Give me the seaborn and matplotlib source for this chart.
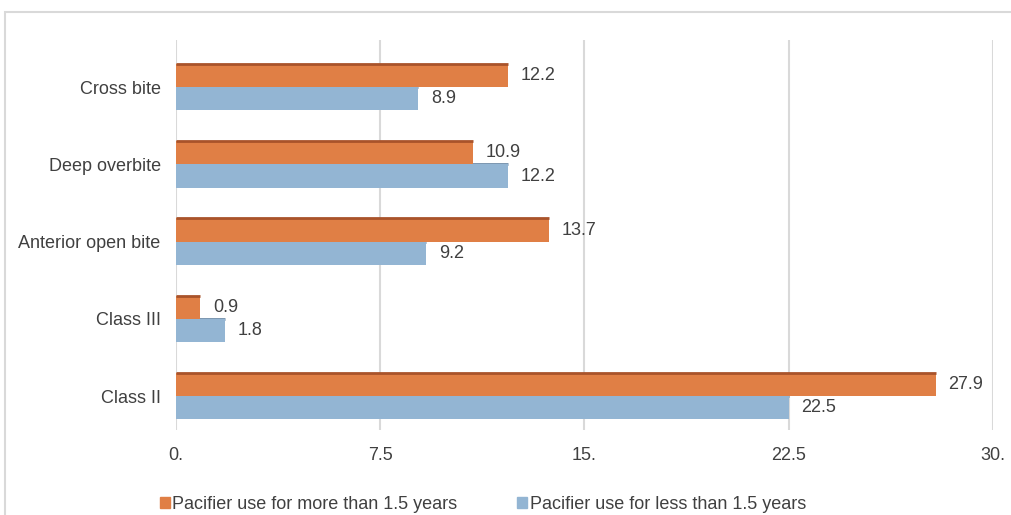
import pandas as pd
import matplotlib
matplotlib.use("Agg")
from matplotlib import pyplot as plt
from matplotlib.patches import Rectangle
import seaborn as sns

# Data
categories = ["Cross bite", "Deep overbite", "Anterior open bite", "Class III", "Class II"]
more_than = [12.2, 10.9, 13.7, 0.9, 27.9]
less_than = [8.9, 12.2, 9.2, 1.8, 22.5]
series = ["Pacifier use for more than 1.5 years", "Pacifier use for less than 1.5 years"]
xticks = [0, 7.5, 15, 22.5, 30]
xtick_labels = ["0.", "7.5", "15.", "22.5", "30."]

df = pd.DataFrame({
    "category": categories * 2,
    "value": more_than + less_than,
    "series": [series[0]] * len(categories) + [series[1]] * len(categories),
})

sns.set_theme(style="white")
plt.rcParams["font.family"] = ["Liberation Sans", "DejaVu Sans"]

colors = {series[0]: "#E07F45", series[1]: "#93B5D3"}
edges = {series[0]: "#A9532A", series[1]: "#6F8CA8"}
text_col = "#404040"
fs = 13

fig = plt.figure(figsize=(10.11, 5.15), dpi=100)
ax = fig.add_axes([0.174, 0.165, 0.808, 0.757])

sns.barplot(data=df, y="category", x="value", hue="series", order=categories,
            hue_order=series, palette=colors, saturation=1, width=0.6, orient="h",
            ax=ax, legend=False, zorder=2, linewidth=0)

# darker top edge on each bar
for cont, s in zip(ax.containers, series):
    for p in cont:
        x0, y0 = p.get_x(), p.get_y()
        ax.plot([x0, x0 + p.get_width()], [y0, y0], color=edges[s], lw=2,
                solid_capstyle="butt", zorder=3 if s == series[0] else 1.5)
    ax.bar_label(cont, labels=[f"{v:.1f}" for v in cont.datavalues], padding=9,
                 fontsize=fs, color=text_col)

ax.set_xlim(0, 30)
ax.set_ylim(4.44, -0.61)
ax.set_xticks(xticks)
ax.set_xticklabels(xtick_labels, fontsize=fs, color=text_col)
ax.tick_params(axis="x", length=0, pad=12)
ax.tick_params(axis="y", length=0, pad=11, labelsize=fs, labelcolor=text_col)
ax.set_xlabel("")
ax.set_ylabel("")
ax.grid(axis="x", color="#D9D9D9", lw=1.5, zorder=0)
ax.set_axisbelow(True)
for sp in ax.spines.values():
    sp.set_visible(False)

# legend with small square markers
handles = [Rectangle((0, 0), 1, 1, color=colors[s]) for s in series]
fig.legend(handles, series, loc="center left", bbox_to_anchor=(0.158, 0.02),
           ncol=2, frameon=False, fontsize=fs, handlelength=0.55, handleheight=0.55,
           handletextpad=0.15, columnspacing=3.3, labelcolor=text_col,
           borderaxespad=0, borderpad=0)

# outer chart border (partly cut off)
fig.patches.append(Rectangle((4.5 / 1011, -0.1), 1.1, 1 - 12 / 515 + 0.1,
                             transform=fig.transFigure, fill=False,
                             edgecolor="#D9D9D9", lw=1.5))

fig.savefig("out.png", dpi=100)
